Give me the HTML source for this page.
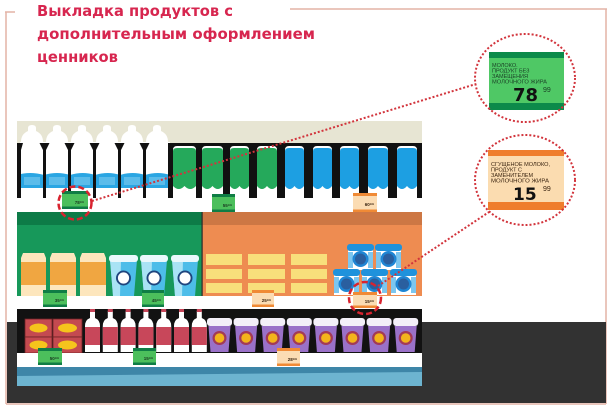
<!DOCTYPE html>
<html><head><meta charset="utf-8">
<style>
html,body{margin:0;padding:0;background:#fff;}
svg{display:block;}
</style></head>
<body>
<svg width="611" height="409" viewBox="0 0 611 409" xmlns="http://www.w3.org/2000/svg">
<rect width="611" height="409" fill="#fff"/>
<!-- frame -->
<g stroke="#e3b3a6" stroke-width="1.5" fill="none">
<line x1="5" y1="12" x2="15" y2="12"/>
<line x1="6" y1="12" x2="6" y2="404"/>
<line x1="290" y1="9" x2="607" y2="9"/>
<line x1="606" y1="9" x2="606" y2="404"/>
<line x1="6" y1="404" x2="606" y2="404"/>
</g>
<!-- title -->
<g font-family="'DejaVu Sans','Liberation Sans',sans-serif" font-weight="bold" font-size="15.5" fill="#d7264f">
<text x="37" y="16" textLength="196" lengthAdjust="spacingAndGlyphs">Выкладка продуктов с</text>
<text x="37" y="39" textLength="278" lengthAdjust="spacingAndGlyphs">дополнительным оформлением</text>
<text x="37" y="62" textLength="81" lengthAdjust="spacingAndGlyphs">ценников</text>
</g>

<!-- floor -->
<rect x="7" y="322" width="599" height="81" fill="#323232"/>

<!-- TOP SHELF -->
<rect x="17" y="121" width="405" height="22" fill="#e7e5d3"/>
<rect x="17" y="143" width="405" height="55" fill="#111"/>
<rect x="17" y="198" width="405" height="14" fill="#fff"/>
<!-- milk bottles -->
<rect x="20" y="142" width="150" height="56" fill="#fff"/>
<g fill="#fff">
<path d="M28,128 Q28,125 32,125 Q36,125 36,128 L36,131 Q43,134 43,142 L43,198 L21,198 L21,142 Q21,134 28,131 Z"/>
<path d="M53,128 Q53,125 57,125 Q61,125 61,128 L61,131 Q68,134 68,142 L68,198 L46,198 L46,142 Q46,134 53,131 Z"/>
<path d="M78,128 Q78,125 82,125 Q86,125 86,128 L86,131 Q93,134 93,142 L93,198 L71,198 L71,142 Q71,134 78,131 Z"/>
<path d="M103,128 Q103,125 107,125 Q111,125 111,128 L111,131 Q118,134 118,142 L118,198 L96,198 L96,142 Q96,134 103,131 Z"/>
<path d="M128,128 Q128,125 132,125 Q136,125 136,128 L136,131 Q143,134 143,142 L143,198 L121,198 L121,142 Q121,134 128,131 Z"/>
<path d="M153,128 Q153,125 157,125 Q161,125 161,128 L161,131 Q168,134 168,142 L168,198 L146,198 L146,142 Q146,134 153,131 Z"/>
</g>
<path d="M17,175 Q30,171 44,175 Q57,171 70,175 Q83,171 95,175 Q108,171 120,175 Q133,171 145,175 Q158,171 170,175 L170,188 L17,188 Z" fill="#2ba6e3"/>
<g fill="#5cbcea">
<rect x="24" y="177" width="16" height="8"/><rect x="49" y="177" width="16" height="8"/><rect x="74" y="177" width="16" height="8"/>
<rect x="99" y="177" width="16" height="8"/><rect x="124" y="177" width="16" height="8"/><rect x="149" y="177" width="16" height="8"/>
</g>
<g fill="#111">
<polygon points="17,143 23,143 21,150 21,198 17,198"/>
<polygon points="39.5,143 49.5,143 46,150 46,198 43,198 43,150"/>
<polygon points="64.5,143 74.5,143 71,150 71,198 68,198 68,150"/>
<polygon points="89.5,143 99.5,143 96,150 96,198 93,198 93,150"/>
<polygon points="114.5,143 124.5,143 121,150 121,198 118,198 118,150"/>
<polygon points="139.5,143 149.5,143 146,150 146,198 143,198 143,150"/>
<rect x="168" y="143" width="5" height="55"/>
</g>
<!-- green & blue bottles -->
<g fill="#fff">
<path d="M173,150 Q173,146 177,146 L192,146 Q196,146 196,150 L196,198 L173,198 Z"/>
<path d="M202,150 Q202,146 206,146 L219,146 Q223,146 223,150 L223,198 L202,198 Z"/>
<path d="M230,150 Q230,146 234,146 L245,146 Q249,146 249,150 L249,198 L230,198 Z"/>
<path d="M257,150 Q257,146 261,146 L273,146 Q277,146 277,150 L277,198 L257,198 Z"/>
<path d="M285,150 Q285,146 289,146 L300,146 Q304,146 304,150 L304,198 L285,198 Z"/>
<path d="M313,150 Q313,146 317,146 L328,146 Q332,146 332,150 L332,198 L313,198 Z"/>
<path d="M340,150 Q340,146 344,146 L355,146 Q359,146 359,150 L359,198 L340,198 Z"/>
<path d="M368,150 Q368,146 372,146 L384,146 Q388,146 388,150 L388,198 L368,198 Z"/>
<path d="M397,150 Q397,146 401,146 L413,146 Q417,146 417,150 L417,198 L397,198 Z"/>
</g>
<g fill="#25a95b">
<path d="M173,151 Q173,148 177,148 L192,148 Q196,148 196,151 L196,186 Q190.25,192 184.5,186 Q178.75,192 173,186 Z"/>
<path d="M202,151 Q202,148 206,148 L219,148 Q223,148 223,151 L223,186 Q217.75,192 212.5,186 Q207.25,192 202,186 Z"/>
<path d="M230,151 Q230,148 234,148 L245,148 Q249,148 249,151 L249,186 Q244.25,192 239.5,186 Q234.75,192 230,186 Z"/>
<path d="M257,151 Q257,148 261,148 L273,148 Q277,148 277,151 L277,186 Q272,192 267,186 Q262,192 257,186 Z"/>
</g>
<g fill="#1d9fe2">
<path d="M285,151 Q285,148 289,148 L300,148 Q304,148 304,151 L304,186 Q299.25,192 294.5,186 Q289.75,192 285,186 Z"/>
<path d="M313,151 Q313,148 317,148 L328,148 Q332,148 332,151 L332,186 Q327.25,192 322.5,186 Q317.75,192 313,186 Z"/>
<path d="M340,151 Q340,148 344,148 L355,148 Q359,148 359,151 L359,186 Q354.25,192 349.5,186 Q344.75,192 340,186 Z"/>
<path d="M368,151 Q368,148 372,148 L384,148 Q388,148 388,151 L388,186 Q383,192 378,186 Q373,192 368,186 Z"/>
<path d="M397,151 Q397,148 401,148 L413,148 Q417,148 417,151 L417,186 Q412,192 407,186 Q402,192 397,186 Z"/>
</g>

<!-- MIDDLE SHELF -->
<rect x="17" y="212" width="185" height="84" fill="#17985a"/>
<rect x="17" y="212" width="185" height="13" fill="#0d7b47"/>
<rect x="202" y="212" width="220" height="84" fill="#ee8c51"/>
<rect x="202" y="212" width="220" height="13" fill="#cd7744"/>
<rect x="201.5" y="212" width="1.2" height="84" fill="#2a2a2a"/>
<rect x="17" y="296" width="405" height="13" fill="#fff"/>
<!-- juice boxes -->
<g>
<path d="M23,253 L44,253 L46,258 L46,296 L21,296 L21,258 Z" fill="#fde6bd"/>
<rect x="21" y="262" width="25" height="23" fill="#f0a641"/>
<path d="M52,253 L74,253 L76,258 L76,296 L50,296 L50,258 Z" fill="#fde6bd"/>
<rect x="50" y="262" width="26" height="23" fill="#f0a641"/>
<path d="M82,253 L104,253 L106,258 L106,296 L80,296 L80,258 Z" fill="#fde6bd"/>
<rect x="80" y="262" width="26" height="23" fill="#f0a641"/>
</g>
<!-- yogurt cups -->
<g>
<path d="M110,260 L137,260 L134,296 L113,296 Z" fill="#4dbde9"/>
<path d="M110,260 L121,260 L120,296 L113,296 Z" fill="#a9e3f5"/>
<rect x="109" y="255" width="29" height="7" rx="3" fill="#eaf8fc"/>
<circle cx="123.5" cy="278" r="7.5" fill="#1f457e"/><circle cx="123.5" cy="278" r="5.6" fill="#fff"/>
<path d="M141,260 L167,260 L164,296 L144,296 Z" fill="#4dbde9"/>
<path d="M141,260 L152,260 L151,296 L144,296 Z" fill="#a9e3f5"/>
<rect x="140" y="255" width="28" height="7" rx="3" fill="#eaf8fc"/>
<circle cx="154" cy="278" r="7.5" fill="#1f457e"/><circle cx="154" cy="278" r="5.6" fill="#fff"/>
<path d="M172,260 L198,260 L195,296 L175,296 Z" fill="#4dbde9"/>
<path d="M172,260 L183,260 L182,296 L175,296 Z" fill="#a9e3f5"/>
<rect x="171" y="255" width="28" height="7" rx="3" fill="#eaf8fc"/>
<circle cx="185" cy="278" r="7.5" fill="#1f457e"/><circle cx="185" cy="278" r="5.6" fill="#fff"/>
</g>
<!-- yellow blocks -->
<g fill="#f8df7b">
<rect x="206" y="254" width="36" height="11"/><rect x="248" y="254" width="37" height="11"/><rect x="291" y="254" width="36" height="11"/>
<rect x="206" y="269" width="36" height="10"/><rect x="248" y="269" width="37" height="10"/><rect x="291" y="269" width="36" height="10"/>
<rect x="206" y="283" width="36" height="10"/><rect x="248" y="283" width="37" height="10"/><rect x="291" y="283" width="36" height="10"/>
</g>
<!-- blue tubs -->
<g>
<rect x="348" y="249" width="25" height="21" fill="#fff"/><path d="M348,252 L353,252 L353,268 L348,268 Z M368,252 L373,252 L373,268 L368,268Z" fill="#7cc6ef"/>
<rect x="347" y="244" width="27" height="7" rx="3" fill="#1f92dc"/>
<circle cx="360.5" cy="259" r="8" fill="#1f86d4"/><circle cx="360.5" cy="259" r="5.5" fill="#2a5f9f"/>
<rect x="376" y="249" width="25" height="21" fill="#fff"/><path d="M376,252 L381,252 L381,268 L376,268 Z M396,252 L401,252 L401,268 L396,268Z" fill="#7cc6ef"/>
<rect x="375" y="244" width="27" height="7" rx="3" fill="#1f92dc"/>
<circle cx="388.5" cy="259" r="8" fill="#1f86d4"/><circle cx="388.5" cy="259" r="5.5" fill="#2a5f9f"/>
<rect x="334" y="274" width="25" height="21" fill="#fff"/><path d="M334,277 L339,277 L339,293 L334,293 Z M354,277 L359,277 L359,293 L354,293Z" fill="#7cc6ef"/>
<rect x="333" y="269" width="27" height="7" rx="3" fill="#1f92dc"/>
<circle cx="346.5" cy="284" r="8" fill="#1f86d4"/><circle cx="346.5" cy="284" r="5.5" fill="#2a5f9f"/>
<rect x="362" y="274" width="25" height="21" fill="#fff"/><path d="M362,277 L367,277 L367,293 L362,293 Z M382,277 L387,277 L387,293 L382,293Z" fill="#7cc6ef"/>
<rect x="361" y="269" width="27" height="7" rx="3" fill="#1f92dc"/>
<circle cx="374.5" cy="284" r="8" fill="#1f86d4"/><circle cx="374.5" cy="284" r="5.5" fill="#2a5f9f"/>
<rect x="391" y="274" width="25" height="21" fill="#fff"/><path d="M391,277 L396,277 L396,293 L391,293 Z M411,277 L416,277 L416,293 L411,293Z" fill="#7cc6ef"/>
<rect x="390" y="269" width="27" height="7" rx="3" fill="#1f92dc"/>
<circle cx="403.5" cy="284" r="8" fill="#1f86d4"/><circle cx="403.5" cy="284" r="5.5" fill="#2a5f9f"/>
</g>

<!-- BOTTOM SHELF -->
<rect x="17" y="309" width="405" height="44" fill="#121212"/>
<!-- cheese boxes -->
<g stroke="#6e2326" stroke-width="0.8">
<rect x="25" y="319" width="27" height="18" fill="#c44a50"/>
<rect x="53" y="319" width="29" height="18" fill="#c44a50"/>
<rect x="25" y="337" width="27" height="16" fill="#c44a50"/>
<rect x="53" y="337" width="29" height="16" fill="#c44a50"/>
</g>
<g fill="#f5c41c">
<ellipse cx="38.5" cy="328" rx="9" ry="4.5"/><ellipse cx="67.5" cy="328" rx="9.5" ry="4.5"/>
<ellipse cx="38.5" cy="345" rx="9" ry="4.5"/><ellipse cx="67.5" cy="345" rx="9.5" ry="4.5"/>
</g>
<!-- red bottles -->
<g>
<path d="M90,311 L95,311 L95,318 Q100,320 100,326 L100,352 L85,352 L85,326 Q85,320 90,318 Z" fill="#fff"/>
<path d="M107.8,311 L112.8,311 L112.8,318 Q117.8,320 117.8,326 L117.8,352 L102.8,352 L102.8,326 Q102.8,320 107.8,318 Z" fill="#fff"/>
<path d="M125.6,311 L130.6,311 L130.6,318 Q135.6,320 135.6,326 L135.6,352 L120.6,352 L120.6,326 Q120.6,320 125.6,318 Z" fill="#fff"/>
<path d="M143.4,311 L148.4,311 L148.4,318 Q153.4,320 153.4,326 L153.4,352 L138.4,352 L138.4,326 Q138.4,320 143.4,318 Z" fill="#fff"/>
<path d="M161.2,311 L166.2,311 L166.2,318 Q171.2,320 171.2,326 L171.2,352 L156.2,352 L156.2,326 Q156.2,320 161.2,318 Z" fill="#fff"/>
<path d="M179,311 L184,311 L184,318 Q189,320 189,326 L189,352 L174,352 L174,326 Q174,320 179,318 Z" fill="#fff"/>
<path d="M196.8,311 L201.8,311 L201.8,318 Q206.8,320 206.8,326 L206.8,352 L191.8,352 L191.8,326 Q191.8,320 196.8,318 Z" fill="#fff"/>
</g>
<g fill="#c8475a">
<rect x="85" y="327" width="15" height="18"/><rect x="102.8" y="327" width="15" height="18"/><rect x="120.6" y="327" width="15" height="18"/>
<rect x="138.4" y="327" width="15" height="18"/><rect x="156.2" y="327" width="15" height="18"/><rect x="174" y="327" width="15" height="18"/>
<rect x="191.8" y="327" width="15" height="18"/>
<rect x="90" y="309" width="5" height="3"/><rect x="107.8" y="309" width="5" height="3"/><rect x="125.6" y="309" width="5" height="3"/>
<rect x="143.4" y="309" width="5" height="3"/><rect x="161.2" y="309" width="5" height="3"/><rect x="179" y="309" width="5" height="3"/><rect x="196.8" y="309" width="5" height="3"/>
</g>
<!-- purple cups -->
<g>
<path d="M208.5,326 L230.5,326 L228.5,352 L210.5,352 Z" fill="#9a71c8"/><rect x="207" y="318" width="25" height="8" rx="3" fill="#f3eff8"/>
<circle cx="219.5" cy="338" r="7" fill="#a33a56"/><circle cx="219.5" cy="338" r="4.8" fill="#f3b41c"/>
<path d="M235.1,326 L257.1,326 L255.1,352 L237.1,352 Z" fill="#9a71c8"/><rect x="233.6" y="318" width="25" height="8" rx="3" fill="#f3eff8"/>
<circle cx="246.1" cy="338" r="7" fill="#a33a56"/><circle cx="246.1" cy="338" r="4.8" fill="#f3b41c"/>
<path d="M261.7,326 L283.7,326 L281.7,352 L263.7,352 Z" fill="#9a71c8"/><rect x="260.2" y="318" width="25" height="8" rx="3" fill="#f3eff8"/>
<circle cx="272.7" cy="338" r="7" fill="#a33a56"/><circle cx="272.7" cy="338" r="4.8" fill="#f3b41c"/>
<path d="M288.3,326 L310.3,326 L308.3,352 L290.3,352 Z" fill="#9a71c8"/><rect x="286.8" y="318" width="25" height="8" rx="3" fill="#f3eff8"/>
<circle cx="299.3" cy="338" r="7" fill="#a33a56"/><circle cx="299.3" cy="338" r="4.8" fill="#f3b41c"/>
<path d="M314.9,326 L336.9,326 L334.9,352 L316.9,352 Z" fill="#9a71c8"/><rect x="313.4" y="318" width="25" height="8" rx="3" fill="#f3eff8"/>
<circle cx="325.9" cy="338" r="7" fill="#a33a56"/><circle cx="325.9" cy="338" r="4.8" fill="#f3b41c"/>
<path d="M341.5,326 L363.5,326 L361.5,352 L343.5,352 Z" fill="#9a71c8"/><rect x="340" y="318" width="25" height="8" rx="3" fill="#f3eff8"/>
<circle cx="352.5" cy="338" r="7" fill="#a33a56"/><circle cx="352.5" cy="338" r="4.8" fill="#f3b41c"/>
<path d="M368.1,326 L390.1,326 L388.1,352 L370.1,352 Z" fill="#9a71c8"/><rect x="366.6" y="318" width="25" height="8" rx="3" fill="#f3eff8"/>
<circle cx="379.1" cy="338" r="7" fill="#a33a56"/><circle cx="379.1" cy="338" r="4.8" fill="#f3b41c"/>
<path d="M394.7,326 L416.7,326 L414.7,352 L396.7,352 Z" fill="#9a71c8"/><rect x="393.2" y="318" width="25" height="8" rx="3" fill="#f3eff8"/>
<circle cx="405.7" cy="338" r="7" fill="#a33a56"/><circle cx="405.7" cy="338" r="4.8" fill="#f3b41c"/>
</g>
<rect x="17" y="353" width="405" height="14" fill="#fff"/>
<rect x="17" y="367" width="405" height="19" fill="#6db4d0"/>
<polygon points="17,367 422,367 422,372 17,376" fill="#3e86a8"/>

<!-- small price tags -->
<g font-family="'Liberation Sans',sans-serif" font-size="4.5" font-weight="bold" fill="#1b3b22">
<!-- green -->
<g>
<rect x="62" y="191" width="26" height="18" fill="#4cbf5c"/><rect x="62" y="191" width="26" height="3" fill="#0f7d45"/><rect x="62" y="206.5" width="26" height="2.5" fill="#0f7d45"/><text x="84" y="204" text-anchor="end">78⁹⁹</text>
<rect x="212" y="194" width="23" height="18" fill="#4cbf5c"/><rect x="212" y="194" width="23" height="3" fill="#0f7d45"/><rect x="212" y="209.5" width="23" height="2.5" fill="#0f7d45"/><text x="232" y="207" text-anchor="end">55⁹⁹</text>
<rect x="43" y="290" width="24" height="17" fill="#4cbf5c"/><rect x="43" y="290" width="24" height="3" fill="#0f7d45"/><rect x="43" y="304.5" width="24" height="2.5" fill="#0f7d45"/><text x="64" y="302" text-anchor="end">35⁹⁹</text>
<rect x="142" y="290" width="22" height="17" fill="#4cbf5c"/><rect x="142" y="290" width="22" height="3" fill="#0f7d45"/><rect x="142" y="304.5" width="22" height="2.5" fill="#0f7d45"/><text x="161" y="302" text-anchor="end">45⁹⁹</text>
<rect x="38" y="348" width="24" height="17" fill="#4cbf5c"/><rect x="38" y="348" width="24" height="3" fill="#0f7d45"/><rect x="38" y="362.5" width="24" height="2.5" fill="#0f7d45"/><text x="59" y="360" text-anchor="end">50⁹⁹</text>
<rect x="133" y="348" width="23" height="17" fill="#4cbf5c"/><rect x="133" y="348" width="23" height="3" fill="#0f7d45"/><rect x="133" y="362.5" width="23" height="2.5" fill="#0f7d45"/><text x="153" y="360" text-anchor="end">15⁹⁹</text>
</g>
<!-- orange -->
<g fill="#3a2410">
<rect x="353" y="193" width="24" height="19" fill="#fbdcb3"/><rect x="353" y="193" width="24" height="3" fill="#f08a35"/><rect x="353" y="209.5" width="24" height="2.5" fill="#f08a35"/><text x="374" y="206" text-anchor="end">60⁹⁹</text>
<rect x="252" y="290" width="22" height="17" fill="#fbdcb3"/><rect x="252" y="290" width="22" height="3" fill="#f08a35"/><rect x="252" y="304.5" width="22" height="2.5" fill="#f08a35"/><text x="271" y="302" text-anchor="end">25⁹⁹</text>
<rect x="353" y="292" width="24" height="16" fill="#fbdcb3"/><rect x="353" y="292" width="24" height="3" fill="#f08a35"/><rect x="353" y="305.5" width="24" height="2.5" fill="#f08a35"/><text x="374" y="303" text-anchor="end">15⁹⁹</text>
<rect x="277" y="348" width="23" height="18" fill="#fbdcb3"/><rect x="277" y="348" width="23" height="3" fill="#f08a35"/><rect x="277" y="363.5" width="23" height="2.5" fill="#f08a35"/><text x="297" y="361" text-anchor="end">28⁹⁹</text>
</g>
</g>

<!-- big label 1 (green) -->
<rect x="489" y="52" width="75" height="58" fill="#4fc865"/>
<rect x="489" y="52" width="75" height="6" fill="#0c8a4a"/>
<rect x="489" y="103" width="75" height="7" fill="#0c8a4a"/>
<g font-family="'Liberation Sans',sans-serif" font-size="5.5" fill="#1a3f25">
<text x="492" y="67">МОЛОКО.</text>
<text x="492" y="72.5">ПРОДУКТ БЕЗ</text>
<text x="492" y="78">ЗАМЕЩЕНИЯ</text>
<text x="492" y="83.5" textLength="55" lengthAdjust="spacingAndGlyphs">МОЛОЧНОГО ЖИРА</text>
</g>
<text x="513" y="101" font-family="'DejaVu Sans','Liberation Sans',sans-serif" font-weight="bold" font-size="18" fill="#111">78</text>
<text x="543" y="92" font-family="'Liberation Sans',sans-serif" font-size="7" fill="#1a3f25">99</text>

<!-- big label 2 (orange) -->
<rect x="488" y="150" width="76" height="60" fill="#fbdcb0"/>
<rect x="488" y="150" width="76" height="6" fill="#ef7d2c"/>
<rect x="488" y="202" width="76" height="8" fill="#ef7d2c"/>
<g font-family="'Liberation Sans',sans-serif" font-size="5.5" fill="#3a2410">
<text x="491" y="166" textLength="59" lengthAdjust="spacingAndGlyphs">СГУЩЕНОЕ МОЛОКО,</text>
<text x="491" y="171.5">ПРОДУКТ С</text>
<text x="491" y="177">ЗАМЕНИТЕЛЕМ</text>
<text x="491" y="182.5" textLength="58" lengthAdjust="spacingAndGlyphs">МОЛОЧНОГО ЖИРА</text>
</g>
<text x="513" y="200" font-family="'DejaVu Sans','Liberation Sans',sans-serif" font-weight="bold" font-size="17" fill="#111">15</text>
<text x="543" y="191" font-family="'Liberation Sans',sans-serif" font-size="7" fill="#3a2410">99</text>

<!-- dotted connectors and circles -->
<g fill="none" stroke="#d2343c" stroke-width="2" stroke-dasharray="2 2">
<ellipse cx="525" cy="78" rx="50" ry="44"/>
<ellipse cx="525" cy="180" rx="50" ry="45"/>
<line x1="92" y1="201" x2="476" y2="84"/>
<line x1="378" y1="286" x2="489" y2="212"/>
</g>
<g fill="none" stroke="#d8232f" stroke-width="2.5" stroke-dasharray="6 3">
<circle cx="75" cy="203" r="16.5"/>
<circle cx="365" cy="298" r="16"/>
</g>
</svg>
</body></html>
